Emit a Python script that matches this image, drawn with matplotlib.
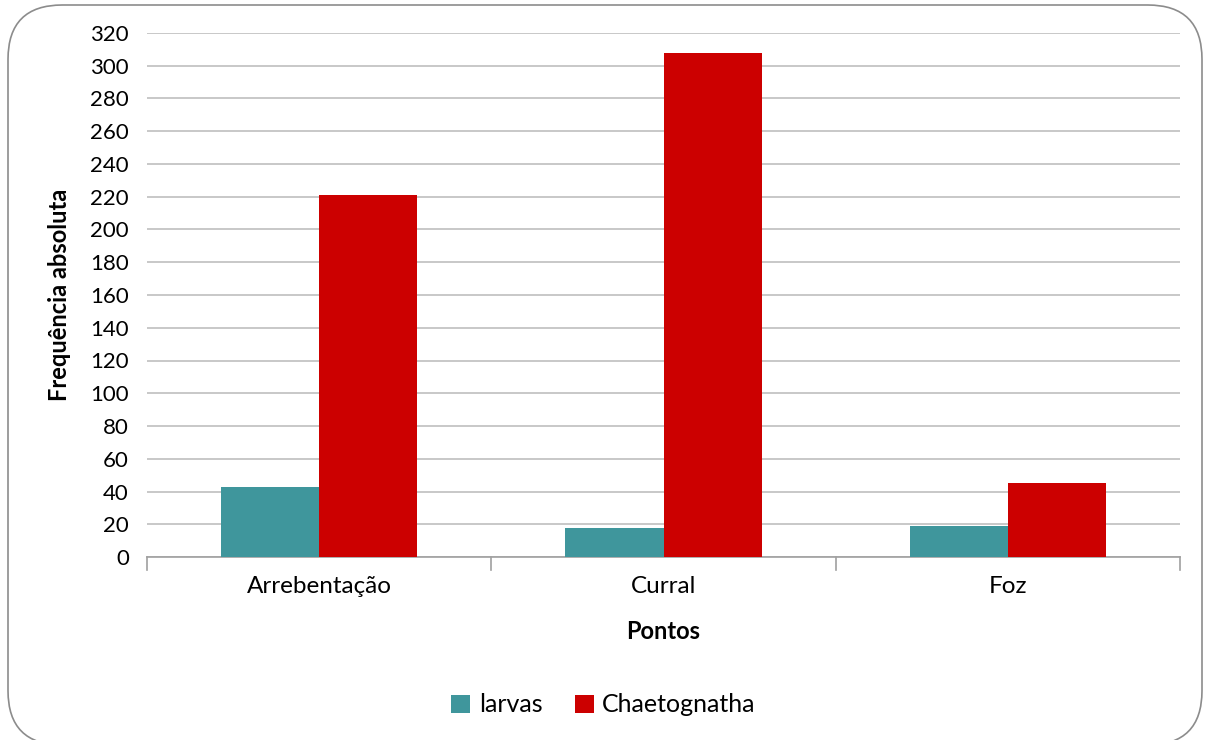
import numpy as np
import matplotlib.pyplot as plt
from matplotlib.patches import FancyBboxPatch

# Frequencies by sampling point
pontos = ['Arrebentação', 'Curral', 'Foz']
larvas = [43, 18, 19]
chaetognatha = [221, 308, 45]
yticks = list(range(0, 321, 20))

plt.rcParams['font.family'] = ['Lato', 'DejaVu Sans']

fig = plt.figure(figsize=(12.07, 7.4), dpi=100)
ax = fig.add_axes([147/1207, 1 - 557/740, (1180-147)/1207, (557-33)/740])

# rounded chart frame
frame = FancyBboxPatch((8/1207, -5/740), 1194/1207, 740/740,
                       boxstyle='round,pad=0,rounding_size=0.045',
                       transform=fig.transFigure, facecolor='white',
                       edgecolor='#8c8c8c', linewidth=1.2, zorder=-10,
                       mutation_aspect=1207/740)
fig.patches.append(frame)

x = np.arange(len(pontos))
w = 0.285
ax.bar(x - w/2, larvas, w, color='#3f969c', label='larvas', zorder=3)
ax.bar(x + w/2, chaetognatha, w, color='#cc0000', label='Chaetognatha', zorder=3)

ax.set_xlim(-0.5, 2.5)
ax.set_ylim(0, 320)
ax.set_yticks(yticks)
ax.set_xticks(x)
ax.set_xticklabels(pontos)
ax.yaxis.grid(True, color='#bfbfbf', linewidth=1.2, zorder=0)
ax.set_axisbelow(True)
for s in ['top', 'right', 'left']:
    ax.spines[s].set_visible(False)
ax.spines['bottom'].set_color('#a0a0a0')
ax.spines['bottom'].set_linewidth(1.2)
ax.tick_params(axis='y', length=0, labelsize=16, pad=13)
ax.tick_params(axis='x', length=0, labelsize=17.5, pad=14)
# category separators on the axis line
for xb in [-0.5, 0.5, 1.5, 2.5]:
    ax.plot([xb, xb], [0, -8], color='#a0a0a0', lw=1.2, clip_on=False)

ax.set_xlabel('Pontos', fontsize=17, fontweight='bold', labelpad=16)
ax.set_ylabel('Frequência absoluta', fontsize=17, fontweight='bold', labelpad=14)

ax.legend(loc='center', bbox_to_anchor=(0.5, 1 - 705/740), bbox_transform=fig.transFigure,
          ncol=2, frameon=False, fontsize=18, handlelength=0.75, handleheight=0.75,
          handletextpad=0.35, columnspacing=1.3)

fig.savefig('out.png', dpi=100)
